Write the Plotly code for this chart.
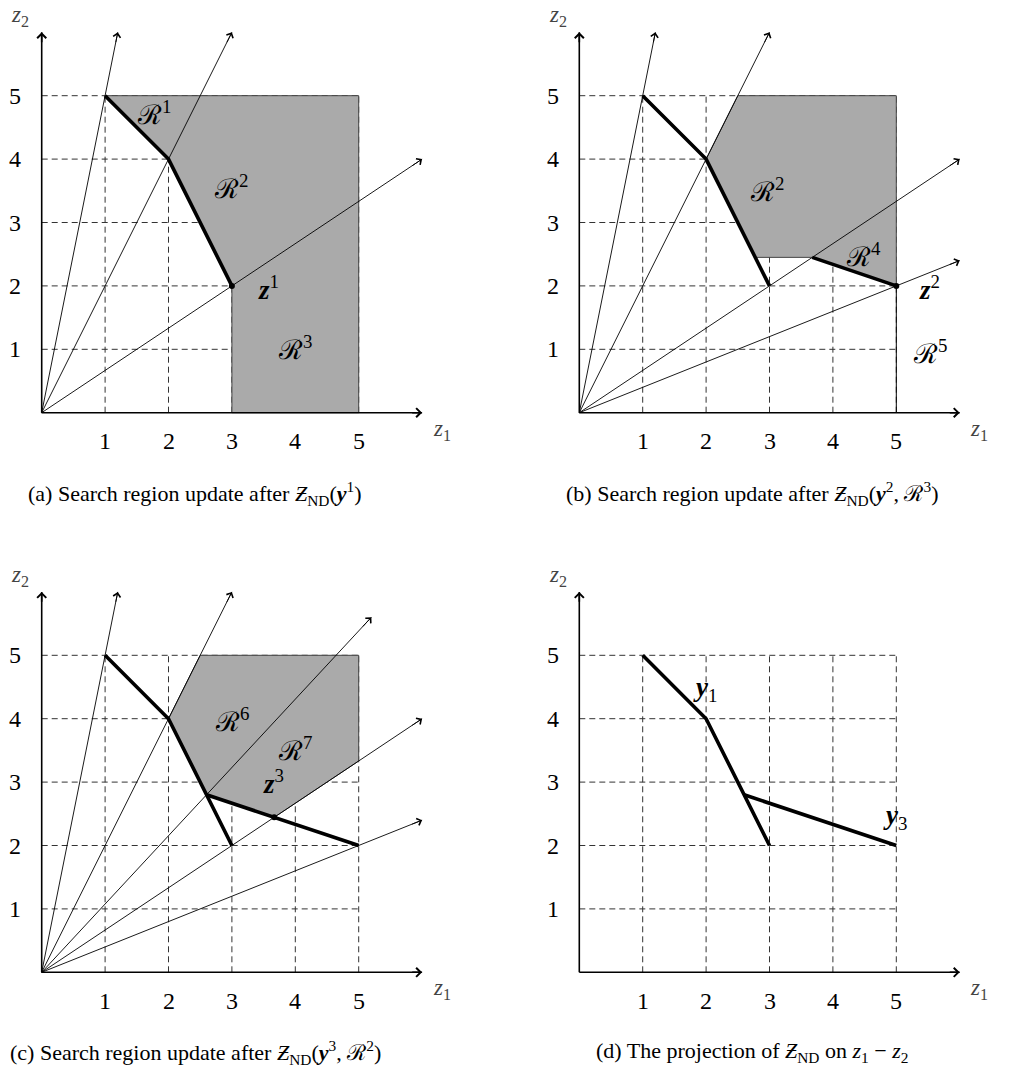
import plotly.graph_objects as go

# ---------------- data ----------------
TICK_VALUES = [1, 2, 3, 4, 5]
TICK_LABELS = ["1", "2", "3", "4", "5"]
GRID_LIMIT = 5
AXIS_LIMIT = 6

# frontier pieces (z1, z2)
FRONT_MAIN_Z1 = [1, 2, 3]
FRONT_MAIN_Z2 = [5, 4, 2]
FRONT_B_Z1 = [3.675, 5]
FRONT_B_Z2 = [2.45, 2]
FRONT_C_Z1 = [2.6, 5]
FRONT_C_Z2 = [2.8, 2]

# rays from origin (end points)
RAYS_A_Z1 = [1.2, 3, 6]
RAYS_A_Z2 = [6, 6, 4]
RAYS_B_Z1 = [1.2, 3, 6, 6]
RAYS_B_Z2 = [6, 6, 4, 2.4]
RAYS_C_Z1 = [1.2, 3, 5.2, 6, 6]
RAYS_C_Z2 = [6, 6, 5.6, 4, 2.4]

# search regions (grey polygons)
REGION_A_Z1 = [1, 5, 5, 3, 3, 2, 1]
REGION_A_Z2 = [5, 5, 0, 0, 2, 4, 5]
REGION_B_Z1 = [2, 2.5, 5, 5, 3.675, 2.775, 2]
REGION_B_Z2 = [4, 5, 5, 2, 2.45, 2.45, 4]
REGION_C_Z1 = [2, 2.5, 5, 5, 3.667, 2.6, 2]
REGION_C_Z2 = [4, 5, 5, 3.333, 2.444, 2.8, 4]

# R5 boundary in (b)
BOUND_B_Z1 = [5, 5]
BOUND_B_Z2 = [0, 2]

# points z^k
POINT_A = (3, 2)
POINT_B = (5, 2)
POINT_C = (3.667, 2.444)

# region labels
REGION_LABELS_A = [("ℛ<sup>1</sup>", 1.77, 4.72), ("ℛ<sup>2</sup>", 2.98, 3.56), ("ℛ<sup>3</sup>", 4.0, 1.02)]
REGION_LABELS_B = [("ℛ<sup>2</sup>", 2.96, 3.51), ("ℛ<sup>4</sup>", 4.48, 2.49), ("ℛ<sup>5</sup>", 5.53, 0.96)]
REGION_LABELS_C = [("ℛ<sup>6</sup>", 3.0, 3.98), ("ℛ<sup>7</sup>", 4.0, 3.53)]
# point labels
POINT_LABELS_A = [("<b><i>z</i></b><sup>1</sup>", 3.57, 1.97)]
POINT_LABELS_B = [("<b><i>z</i></b><sup>2</sup>", 5.53, 1.97)]
POINT_LABELS_C = [("<b><i>z</i></b><sup>3</sup>", 3.65, 3.0)]
POINT_LABELS_D = [("<b><i>y</i></b><sub>1</sub>", 1.98, 4.47), ("<b><i>y</i></b><sub>3</sub>", 4.98, 2.45)]

CAPTIONS = [
    "(a) Search region update after <i>Ƶ</i><sub>ND</sub>(<b><i>y</i></b><sup>1</sup>)",
    "(b) Search region update after <i>Ƶ</i><sub>ND</sub>(<b><i>y</i></b><sup>2</sup>, ℛ<sup>3</sup>)",
    "(c) Search region update after <i>Ƶ</i><sub>ND</sub>(<b><i>y</i></b><sup>3</sup>, ℛ<sup>2</sup>)",
    "(d) The projection of <i>Ƶ</i><sub>ND</sub> on <i>z</i><sub>1</sub> − <i>z</i><sub>2</sub>",
]
CAPTION_X = [2.42, 2.72, 2.42, 2.72]
CAPTION_Y = [-1.27, -1.27, -1.26, -1.26]

# ---------------- layout geometry ----------------
W, H = 1015, 1080
UNIT = 63.4
PANELS = [
    dict(box=(0, 480, 0, 530), origin=(41.7, 412.7)),
    dict(box=(500, 1015, 0, 530), origin=(579.3, 412.7)),
    dict(box=(0, 480, 540, 1080), origin=(41.7, 972.3)),
    dict(box=(500, 1015, 540, 1080), origin=(579.3, 972.3)),
]

FONT = "Liberation Serif"
TICK_SIZE = 24
REGION_SIZE = 27
POINT_SIZE = 27
AXLABEL_SIZE = 23
CAPTION_SIZE = 22

fig = go.Figure()
annotations = []


def axnames(i):
    s = "" if i == 0 else str(i + 1)
    return "x" + s, "y" + s


def add_line(i, xs, ys, width, color="black", dash=None):
    xa, ya = axnames(i)
    fig.add_trace(go.Scatter(x=xs, y=ys, mode="lines", xaxis=xa, yaxis=ya,
                             line=dict(color=color, width=width, dash=dash),
                             hoverinfo="skip", showlegend=False))


def add_head(i, x, y, width, size):
    xa, ya = axnames(i)
    annotations.append(dict(x=x, y=y, ax=x * 0.97, ay=y * 0.97, xref=xa, yref=ya,
                            axref=xa, ayref=ya, showarrow=True, arrowhead=4,
                            arrowwidth=width, arrowsize=size, arrowcolor="black", text=""))


def add_text(i, labels, size, color="black"):
    xa, ya = axnames(i)
    for text, x, y in labels:
        annotations.append(dict(x=x, y=y, xref=xa, yref=ya, text=text, showarrow=False,
                                xanchor="center", yanchor="middle",
                                font=dict(family=FONT, size=size, color=color)))


def add_base(i):
    for v in TICK_VALUES:
        add_line(i, [0, GRID_LIMIT], [v, v], 1, "#333", "6px,4px")
        add_line(i, [v, v], [0, GRID_LIMIT], 1, "#333", "6px,4px")


def add_axes(i):
    add_line(i, [0, AXIS_LIMIT], [0, 0], 1.6)
    add_line(i, [0, 0], [0, AXIS_LIMIT], 1.6)
    add_head(i, AXIS_LIMIT, 0.0001, 1.6, 1.1)
    add_head(i, 0.0001, AXIS_LIMIT, 1.6, 1.1)
    add_text(i, [(t, v, -0.45) for t, v in zip(TICK_LABELS, TICK_VALUES)], TICK_SIZE)
    add_text(i, [(t, -0.42, v) for t, v in zip(TICK_LABELS, TICK_VALUES)], TICK_SIZE)
    add_text(i, [("<i>z</i><sub>1</sub>", 6.31, -0.27), ("<i>z</i><sub>2</sub>", -0.34, 6.25)],
             AXLABEL_SIZE, "#444")


def add_region(i, xs, ys):
    xa, ya = axnames(i)
    fig.add_trace(go.Scatter(x=xs, y=ys, mode="lines", fill="toself", fillcolor="#aaaaaa",
                             line=dict(color="#444", width=1), xaxis=xa, yaxis=ya,
                             hoverinfo="skip", showlegend=False))


def add_rays(i, ex, ey):
    for x, y in zip(ex, ey):
        add_line(i, [0, x], [0, y], 0.9)
        add_head(i, x, y, 0.9, 1.6)


def add_point(i, p):
    xa, ya = axnames(i)
    fig.add_trace(go.Scatter(x=[p[0]], y=[p[1]], mode="markers", xaxis=xa, yaxis=ya,
                             marker=dict(color="black", size=6), hoverinfo="skip", showlegend=False))


# panel (a)
add_base(0)
add_region(0, REGION_A_Z1, REGION_A_Z2)
add_rays(0, RAYS_A_Z1, RAYS_A_Z2)
add_line(0, FRONT_MAIN_Z1, FRONT_MAIN_Z2, 3.6)
add_point(0, POINT_A)
add_axes(0)
add_text(0, REGION_LABELS_A, REGION_SIZE)
add_text(0, POINT_LABELS_A, POINT_SIZE)

# panel (b)
add_base(1)
add_region(1, REGION_B_Z1, REGION_B_Z2)
add_line(1, BOUND_B_Z1, BOUND_B_Z2, 1)
add_rays(1, RAYS_B_Z1, RAYS_B_Z2)
add_line(1, FRONT_MAIN_Z1, FRONT_MAIN_Z2, 3.6)
add_line(1, FRONT_B_Z1, FRONT_B_Z2, 3.6)
add_point(1, POINT_B)
add_axes(1)
add_text(1, REGION_LABELS_B, REGION_SIZE)
add_text(1, POINT_LABELS_B, POINT_SIZE)

# panel (c)
add_base(2)
add_region(2, REGION_C_Z1, REGION_C_Z2)
add_rays(2, RAYS_C_Z1, RAYS_C_Z2)
add_line(2, FRONT_MAIN_Z1, FRONT_MAIN_Z2, 3.6)
add_line(2, FRONT_C_Z1, FRONT_C_Z2, 3.6)
add_point(2, POINT_C)
add_axes(2)
add_text(2, REGION_LABELS_C, REGION_SIZE)
add_text(2, POINT_LABELS_C, POINT_SIZE)

# panel (d)
add_base(3)
add_line(3, FRONT_MAIN_Z1, FRONT_MAIN_Z2, 3.6)
add_line(3, FRONT_C_Z1, FRONT_C_Z2, 3.6)
add_axes(3)
add_text(3, POINT_LABELS_D, POINT_SIZE)

# captions
for i in range(4):
    add_text(i, [(CAPTIONS[i], CAPTION_X[i], CAPTION_Y[i])], CAPTION_SIZE)

layout = dict(width=W, height=H, margin=dict(l=0, r=0, t=0, b=0),
              paper_bgcolor="white", plot_bgcolor="white", showlegend=False,
              font=dict(family=FONT, size=TICK_SIZE, color="black"),
              annotations=annotations)
for i, p in enumerate(PANELS):
    x0, x1, y0, y1 = p["box"]
    ox, oy = p["origin"]
    s = "" if i == 0 else str(i + 1)
    layout["xaxis" + s] = dict(domain=[x0 / W, x1 / W], range=[(x0 - ox) / UNIT, (x1 - ox) / UNIT],
                               visible=False, fixedrange=True)
    layout["yaxis" + s] = dict(domain=[1 - y1 / H, 1 - y0 / H], range=[(oy - y1) / UNIT, (oy - y0) / UNIT],
                               visible=False, fixedrange=True)
fig.update_layout(**layout)
fig.write_html("out.html")
